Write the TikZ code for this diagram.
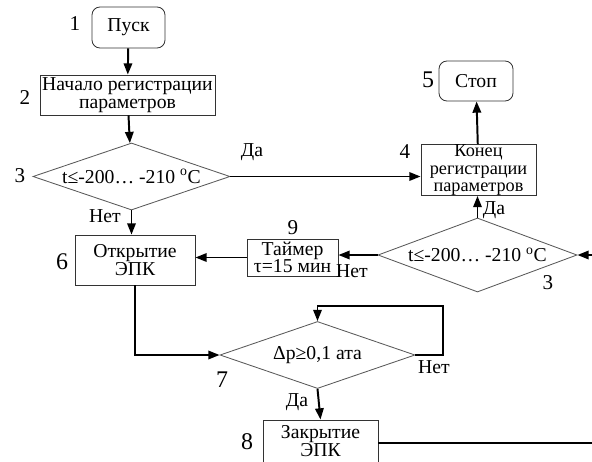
\documentclass[tikz,border=0pt]{standalone}
\usepackage{fontspec}
\setmainfont{Liberation Serif}
\usetikzlibrary{shapes, arrows.meta, positioning}
\tikzstyle{term} = [rectangle, rounded corners=0.2cm, draw=black!80, line width=0.6pt, font=\fontsize{14}{12.5}\selectfont]
\tikzstyle{proc} = [rectangle, draw=black!80, line width=0.6pt, align=center, inner sep=1pt, font=\fontsize{14}{12.5}\selectfont]
\tikzstyle{cond} = [diamond, aspect=3, draw=black!65, line width=0.6pt, inner sep=0pt, font=\fontsize{14}{14}\selectfont]
\tikzstyle{flow} = [-{Triangle[length=8pt, width=6pt]}, line width=1.4pt]
\tikzstyle{ans} = [font=\fontsize{14}{14}\selectfont]
\tikzstyle{num} = [font=\fontsize{15}{15}\selectfont]
\tikzstyle{bignum} = [font=\fontsize{17}{17}\selectfont]

\begin{document}
\begin{tikzpicture}[x=0.025cm, y=-0.025cm]
  \clip (0,0) rectangle (592,461);

  % блоки
  \node[term, minimum width=1.825cm, minimum height=1.025cm] (start) at (128.5,27.5) {Пуск};
  \node[proc, minimum width=4.375cm, minimum height=1cm] (begin) at (127.5,95) {Начало регистрации\\ параметров};
  \node[cond, minimum width=4.925cm, minimum height=1.675cm] (cond1) at (131.5,176.5) {t≤-200… -210 \textsuperscript{o}C};
  \node[proc, minimum width=2.875cm, minimum height=1.25cm, inner sep=0pt, font=\fontsize{13}{12.5}\selectfont] (finish) at (478.5,170) {Конец\\ регистрации\\ параметров};
  \node[term, minimum width=1.85cm, minimum height=1cm] (stop) at (476,81) {Стоп};
  \node[cond, minimum width=4.975cm, minimum height=1.85cm] (cond2) at (477.5,255) {t≤-200… -210 \textsuperscript{o}C};
  \node[proc, minimum width=2.275cm, minimum height=0.925cm] (timer) at (292.5,257.5) {Таймер\\ τ=15 мин};
  \node[proc, minimum width=3cm, minimum height=1.25cm] (open) at (135,260) {Открытие\\ ЭПК};
  \node[cond, minimum width=4.875cm, minimum height=1.675cm] (cond3) at (317.5,355) {Δp≥0,1 ата};
  \node[proc, minimum width=2.875cm, minimum height=1.05cm] (close) at (320.5,441) {Закрытие\\ ЭПК};

  % номера
  \node[num] (n1) at (75,24) {1};
  \node[num] (n2) at (25,98) {2};
  \node[num] (n3) at (20,176) {3};
  \node[num] (n4) at (405,152) {4};
  \node[bignum] (n5) at (428,80) {5};
  \node[bignum] (n6) at (62,262) {6};
  \node[bignum] (n7) at (222,380) {7};
  \node[bignum] (n8) at (247,442) {8};
  \node[num] (n9) at (293,228) {9};
  \node[num] (n3b) at (548,283) {3};

  % свободные концы
  \coordinate (loop) at (443,306);
  \coordinate (edge1) at (592,443);
  \coordinate (edge2) at (592,255);

  % связи
  \draw[flow] (start) -- (begin);
  \draw[flow] (begin) -- (cond1);
  \draw[flow] (cond1.east) -- (cond1.east -| finish.west);
  \draw[flow] (finish) -- (stop);
  \draw[flow] (cond2.north) -- (cond2.north |- finish.south);
  \draw[flow] (cond1.south) -- (cond1.south |- open.north);
  \draw[flow] (cond2.west) -- (cond2.west -| timer.east);
  \draw[flow] (timer.west) -- (timer.west -| open.east);
  \draw[flow] (open.south) |- (cond3.west);
  \draw[flow] (cond3.east) -| (loop) -| (cond3.north);
  \draw[flow] (cond3.south) -- (close.north);
  \draw[line width=1.4pt] (close.east |- edge1) -- (edge1);
  \draw[flow] (edge2) -- (cond2.east);

  % ответы
  \node[ans] (yes1) at (252,152) {Да};
  \node[ans] (no1) at (105,216) {Нет};
  \node[ans] (no2) at (352,271) {Нет};
  \node[ans] (yes2) at (494,210) {Да};
  \node[ans] (no3) at (434,367) {Нет};
  \node[ans] (yes3) at (297,402) {Да};
\end{tikzpicture}
\end{document}
